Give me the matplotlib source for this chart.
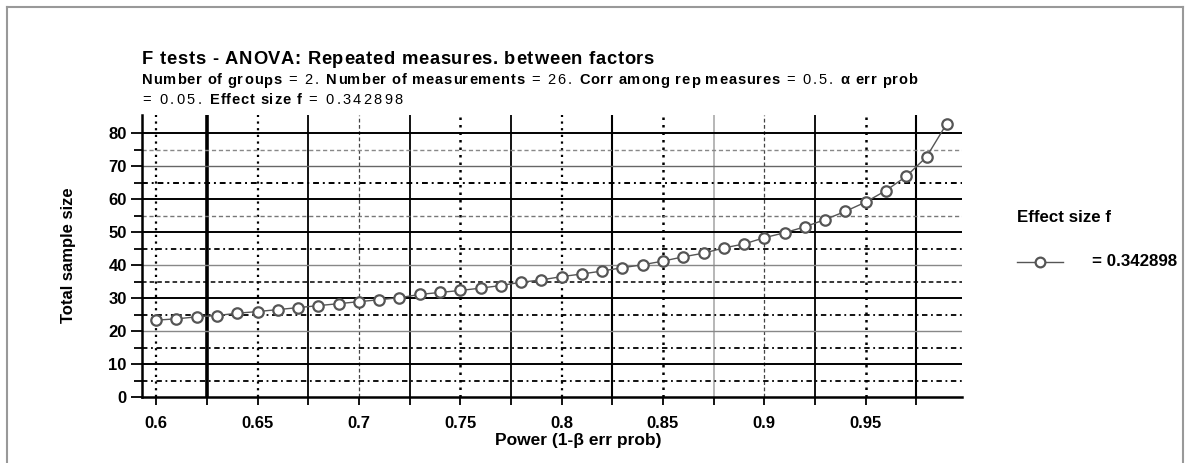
import matplotlib
matplotlib.use("Agg")
import matplotlib.pyplot as plt
import numpy as np

plt.rcParams['font.family'] = ['Liberation Sans', 'DejaVu Sans']

# ---- data ----
power = [0.60, 0.61, 0.62, 0.63, 0.64, 0.65, 0.66, 0.67, 0.68, 0.69,
         0.70, 0.71, 0.72, 0.73, 0.74, 0.75, 0.76, 0.77, 0.78, 0.79,
         0.80, 0.81, 0.82, 0.83, 0.84, 0.85, 0.86, 0.87, 0.88, 0.89,
         0.90, 0.91, 0.92, 0.93, 0.94, 0.95, 0.96, 0.97, 0.98, 0.99]
total_n = [23.3, 23.7, 24.3, 24.7, 25.4, 25.9, 26.5, 27.1, 27.7, 28.3,
           28.9, 29.5, 30.1, 31.1, 31.7, 32.3, 33.0, 33.8, 34.8, 35.5,
           36.5, 37.3, 38.2, 39.2, 40.1, 41.2, 42.5, 43.6, 45.2, 46.4,
           48.3, 49.8, 51.6, 53.8, 56.3, 59.1, 62.6, 66.9, 72.8, 82.9]
x_ticks = [0.6, 0.625, 0.65, 0.675, 0.7, 0.725, 0.75, 0.775, 0.8, 0.825,
           0.85, 0.875, 0.9, 0.925, 0.95, 0.975]
x_labels = ["0.6", "", "0.65", "", "0.7", "", "0.75", "", "0.8", "",
            "0.85", "", "0.9", "", "0.95", ""]
y_ticks = [0, 10, 20, 30, 40, 50, 60, 70, 80]
y_minor = [5, 15, 25, 35, 45, 55, 65, 75]
title = "F tests - ANOVA: Repeated measures. between factors"
sub_line1 = [("Number of groups", True), (" = 2. ", False),
             ("Number of measurements", True), (" = 26. ", False),
             ("Corr among rep measures", True), (" = 0.5. ", False),
             ("\u03b1 err prob", True)]
sub_line2 = [("= 0.05. ", False), ("Effect size f", True), (" = 0.342898", False)]
legend_title = "Effect size f"
legend_label = "= 0.342898"

W, H = 1185, 463
fig = plt.figure(figsize=(W / 100, H / 100), dpi=100)
ax = fig.add_axes([142 / W, 1 - 397 / H, (962 - 142) / W, (397 - 115) / H])
ax.set_xlim(0.593, 0.9975)
ax.set_ylim(0, 85.5)

# ---- grid lines (styles mimic reference) ----
DOT = (0, (1, 2))
DASH = (0, (3, 2))
DASHDOT = (0, (3, 2, 1, 2))
vstyles = {
    0.6: dict(color='black', lw=1.6, ls=DOT),
    0.625: dict(color='black', lw=2.6, ls='-'),
    0.65: dict(color='black', lw=1.6, ls=DOT),
    0.675: dict(color='black', lw=1.3, ls='-'),
    0.7: dict(color='#444444', lw=0.9, ls=DASH),
    0.725: dict(color='black', lw=1.3, ls='-'),
    0.75: dict(color='black', lw=1.8, ls=DOT),
    0.775: dict(color='black', lw=1.3, ls='-'),
    0.8: dict(color='black', lw=1.6, ls=DOT),
    0.825: dict(color='black', lw=1.5, ls='-'),
    0.85: dict(color='black', lw=1.8, ls=DOT),
    0.875: dict(color='#aaaaaa', lw=1.2, ls='-'),
    0.9: dict(color='#444444', lw=0.9, ls=DASH),
    0.925: dict(color='black', lw=1.3, ls='-'),
    0.95: dict(color='black', lw=1.8, ls=DOT),
    0.975: dict(color='black', lw=1.5, ls='-'),
}
for xv in x_ticks:
    ax.axvline(xv, zorder=1, **vstyles[xv])

hstyles = {
    80: dict(color='black', lw=1.4, ls='-'),
    75: dict(color='#888888', lw=1.0, ls=DASH),
    70: dict(color='#666666', lw=1.0, ls='-'),
    65: dict(color='black', lw=1.4, ls=DASHDOT),
    60: dict(color='black', lw=1.4, ls='-'),
    55: dict(color='#777777', lw=1.0, ls=DASH),
    50: dict(color='black', lw=1.4, ls='-'),
    45: dict(color='black', lw=1.3, ls=DASHDOT),
    40: dict(color='#888888', lw=1.0, ls='-'),
    35: dict(color='black', lw=1.1, ls=DASH),
    30: dict(color='black', lw=1.4, ls='-'),
    25: dict(color='black', lw=1.3, ls=DASHDOT),
    20: dict(color='#888888', lw=1.0, ls='-'),
    15: dict(color='black', lw=1.3, ls=DASHDOT),
    10: dict(color='black', lw=1.4, ls='-'),
    5: dict(color='black', lw=1.3, ls=DASHDOT),
}
for yv, st in hstyles.items():
    ax.axhline(yv, zorder=1, **st)

# ---- data series ----
ax.plot(power, total_n, color='#555555', lw=1.0, marker='o', ms=7.5,
        mfc='white', mec='#555555', mew=1.6, zorder=3, clip_on=False)

# ---- axes styling ----
for s in ['top', 'right']:
    ax.spines[s].set_visible(False)
for s in ['left', 'bottom']:
    ax.spines[s].set_linewidth(1.8)
    ax.spines[s].set_color('black')
ax.set_xticks(x_ticks)
ax.set_xticklabels(x_labels, fontsize=12, fontweight='bold')
ax.set_yticks(y_ticks)
ax.set_yticks(y_minor, minor=True)
ax.set_yticklabels([str(v) for v in y_ticks], fontsize=12, fontweight='bold')
ax.tick_params(axis='x', direction='out', length=6, width=1.3, pad=8)
ax.tick_params(axis='y', which='major', direction='out', length=8, width=1.3, pad=3)
ax.tick_params(axis='y', which='minor', direction='out', length=6, width=1.3)
ax.tick_params(axis='x', which='minor', length=0)

fig.text(68 / W, 1 - 255 / H, "Total sample size", rotation=90, ha='center',
         va='center', fontsize=12, fontweight='bold')
fig.text(578 / W, 1 - 441 / H, "Power (1-\u03b2 err prob)", ha='center',
         va='center', fontsize=12.5, fontweight='bold')

renderer = fig.canvas.get_renderer()


def space_width(size, bold):
    w = 'bold' if bold else 'normal'
    t = fig.text(0, 0, 'a a', fontsize=size, fontweight=w)
    w1 = t.get_window_extent(renderer=renderer).width
    t.set_text('aa')
    w2 = t.get_window_extent(renderer=renderer).width
    t.remove()
    return w1 - w2


def draw_spaced(txt, x, yc, size, bold, spacing):
    """Draw text char by char with extra letter spacing (px); return end x."""
    weight = 'bold' if bold else 'normal'
    if spacing == 0:
        t = fig.text(x / W, 1 - yc / H, txt, ha='left', va='center',
                     fontsize=size, fontweight=weight)
        return x + t.get_window_extent(renderer=renderer).width
    sw = space_width(size, bold)
    for ch in txt:
        if ch == ' ':
            x += sw + spacing
            continue
        t = fig.text(x / W, 1 - yc / H, ch, ha='left', va='center_baseline',
                     fontsize=size, fontweight=weight)
        x += t.get_window_extent(renderer=renderer).width + spacing
    return x


def draw_pieces(pieces, x0, yc, bsize, bspace, nsize, nspace):
    x = x0
    for txt, bold in pieces:
        if bold:
            x = draw_spaced(txt, x, yc, bsize, True, bspace)
        else:
            x = draw_spaced(txt, x, yc, nsize, False, nspace)


# ---- title & subtitle ----
draw_spaced(title, 142, 58, 13.2, True, 0.7)
draw_pieces(sub_line1, 142, 79, 10.5, 0.8, 10.5, 1.8)
draw_pieces(sub_line2, 142, 99, 10.5, 0.8, 10.5, 2.3)

# ---- legend ----
fig.text(1017 / W, 1 - 217 / H, legend_title, ha='left', va='center',
         fontsize=12.2, fontweight='bold')
leg_ax = fig.add_axes([1012 / W, 1 - 272 / H, 56 / W, 20 / H])
leg_ax.set_xlim(0, 1)
leg_ax.set_ylim(0, 1)
leg_ax.axis('off')
leg_ax.plot([0.09, 0.91], [0.5, 0.5], color='#555555', lw=1.0)
leg_ax.plot([0.5], [0.5], marker='o', ms=7, mfc='white', mec='#555555', mew=1.6)
fig.text(1092 / W, 1 - 262 / H, legend_label, ha='left', va='center',
         fontsize=12.2, fontweight='bold')

# ---- outer frame ----
frame = fig.add_axes([0, 0, 1, 1], zorder=-1)
frame.set_xlim(0, W)
frame.set_ylim(H, 0)
frame.axis('off')
frame.plot([7, 7], [7, H], color='#999999', lw=1.5)
frame.plot([7, 1183], [7, 7], color='#999999', lw=1.5)
frame.plot([1183, 1183], [7, H], color='#999999', lw=1.5)

fig.savefig("out.png", dpi=100)
